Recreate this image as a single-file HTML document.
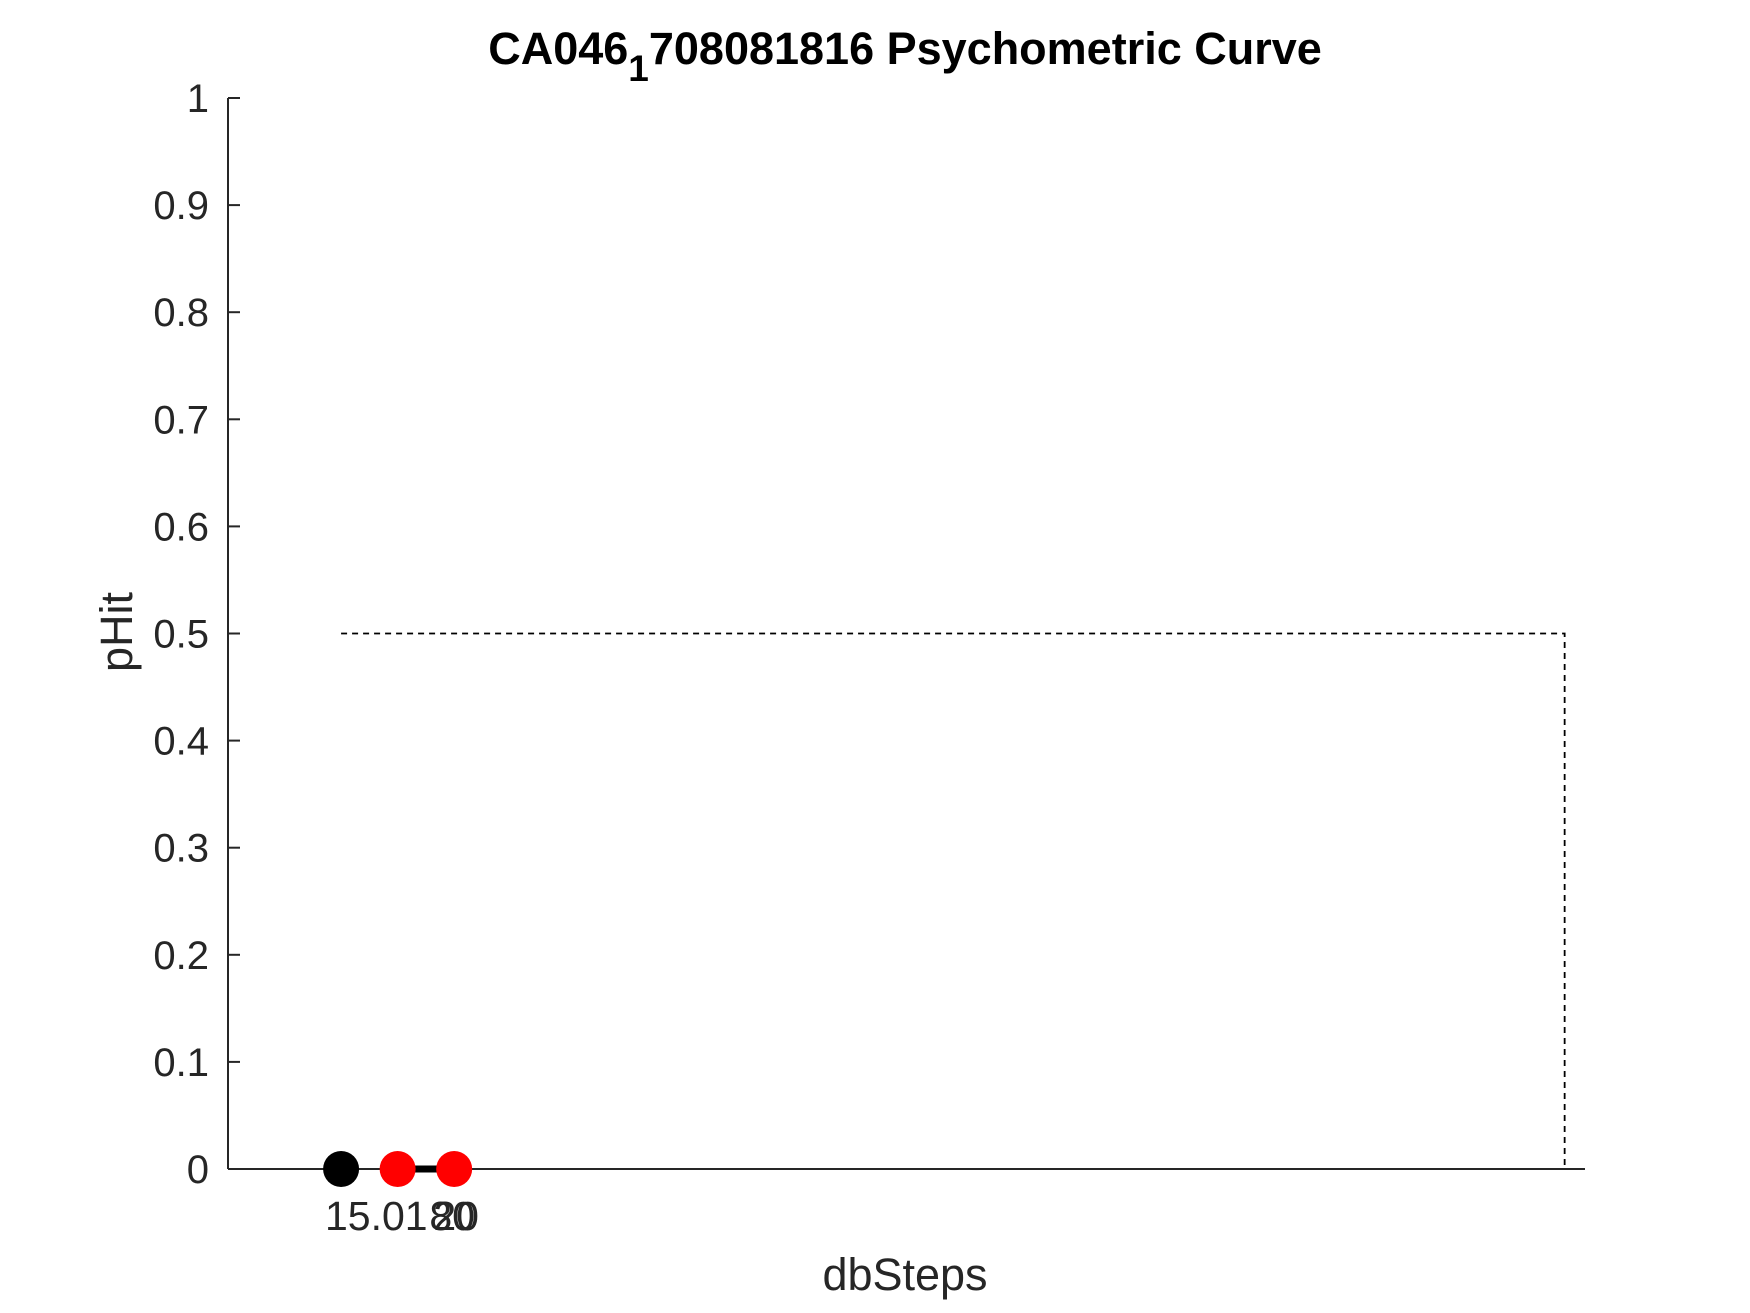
<!DOCTYPE html>
<html><head><meta charset="utf-8"><style>
html,body{margin:0;padding:0;background:#fff;}
svg{display:block;font-family:"Liberation Sans",Arial,sans-serif;}
</style></head><body>
<svg id="chart" width="1750" height="1313" viewBox="0 0 1750 1313">
<text x="905" y="64" text-anchor="middle" font-size="45" font-weight="bold" fill="#000">CA046<tspan dy="17" font-size="37">1</tspan><tspan dy="-17">708081816 Psychometric Curve</tspan></text>
<g id="axes"></g>
<text x="905" y="1290" text-anchor="middle" font-size="45" fill="#262626">dbSteps</text>
<text transform="translate(132,632) rotate(-90)" text-anchor="middle" font-size="45" fill="#262626">pHit</text>
</svg>
<script>
const xVals=[15,20,25];
const yVals=[0,0,0];
const pointColors=['#000','#f00','#f00'];
const yTicks=[0,0.1,0.2,0.3,0.4,0.5,0.6,0.7,0.8,0.9,1];
const yTickLabels=['0','0.1','0.2','0.3','0.4','0.5','0.6','0.7','0.8','0.9','1'];
const chanceLevel=0.5;
const chanceXEnd=123.2;
const NS='http://www.w3.org/2000/svg';
const L=228,R=1585,T=98,B=1169;
const xMin=5,xMax=125;
function sx(v){return L+(v-xMin)/(xMax-xMin)*(R-L);}
function sy(v){return B-(v-0)/(1-0)*(B-T);}
const g=document.getElementById('axes');
function mk(tag,attrs){const e=document.createElementNS(NS,tag);for(const k in attrs)e.setAttribute(k,attrs[k]);g.appendChild(e);return e;}
let e=mk('line',{x1:L,y1:T,x2:L,y2:B,stroke:'#262626','stroke-width':2});


e=mk('line',{x1:L,y1:B,x2:R,y2:B,stroke:'#262626','stroke-width':2});


yTicks.forEach((t,i)=>{
  const y=sy(t);
  let tk=mk('line',{x1:L,y1:y,x2:L+12,y2:y,stroke:'#262626','stroke-width':2});
  
  
  let tx=mk('text',{x:209,y:y+14,'text-anchor':'end','font-size':40,fill:'#262626'});
  tx.textContent=yTickLabels[i];
  
  
});
e=mk('polyline',{points:`${sx(xVals[0])},${sy(chanceLevel)} ${sx(chanceXEnd)},${sy(chanceLevel)} ${sx(chanceXEnd)},${B}`,fill:'none',stroke:'#000','stroke-width':1.8,'stroke-dasharray':'6,5'});


e=mk('line',{x1:sx(xVals[1]),y1:sy(yVals[1]),x2:sx(xVals[2]),y2:sy(yVals[2]),stroke:'#000','stroke-width':7});


xVals.forEach((v,i)=>{
  let c=mk('circle',{cx:sx(v),cy:sy(yVals[i]),r:18,fill:pointColors[i]});
  
  
});
const xLabels=[{t:'15.01',x:325,a:'start'},{t:'20',x:sx(25)+2,a:'middle'},{t:'80',x:sx(25)-2,a:'middle'}];
xLabels.forEach(l=>{
  let tx=mk('text',{x:l.x,y:1230,'text-anchor':l.a,'font-size':41,fill:'#262626'});
  tx.textContent=l.t;
  
  
});
</script>
</body></html>
